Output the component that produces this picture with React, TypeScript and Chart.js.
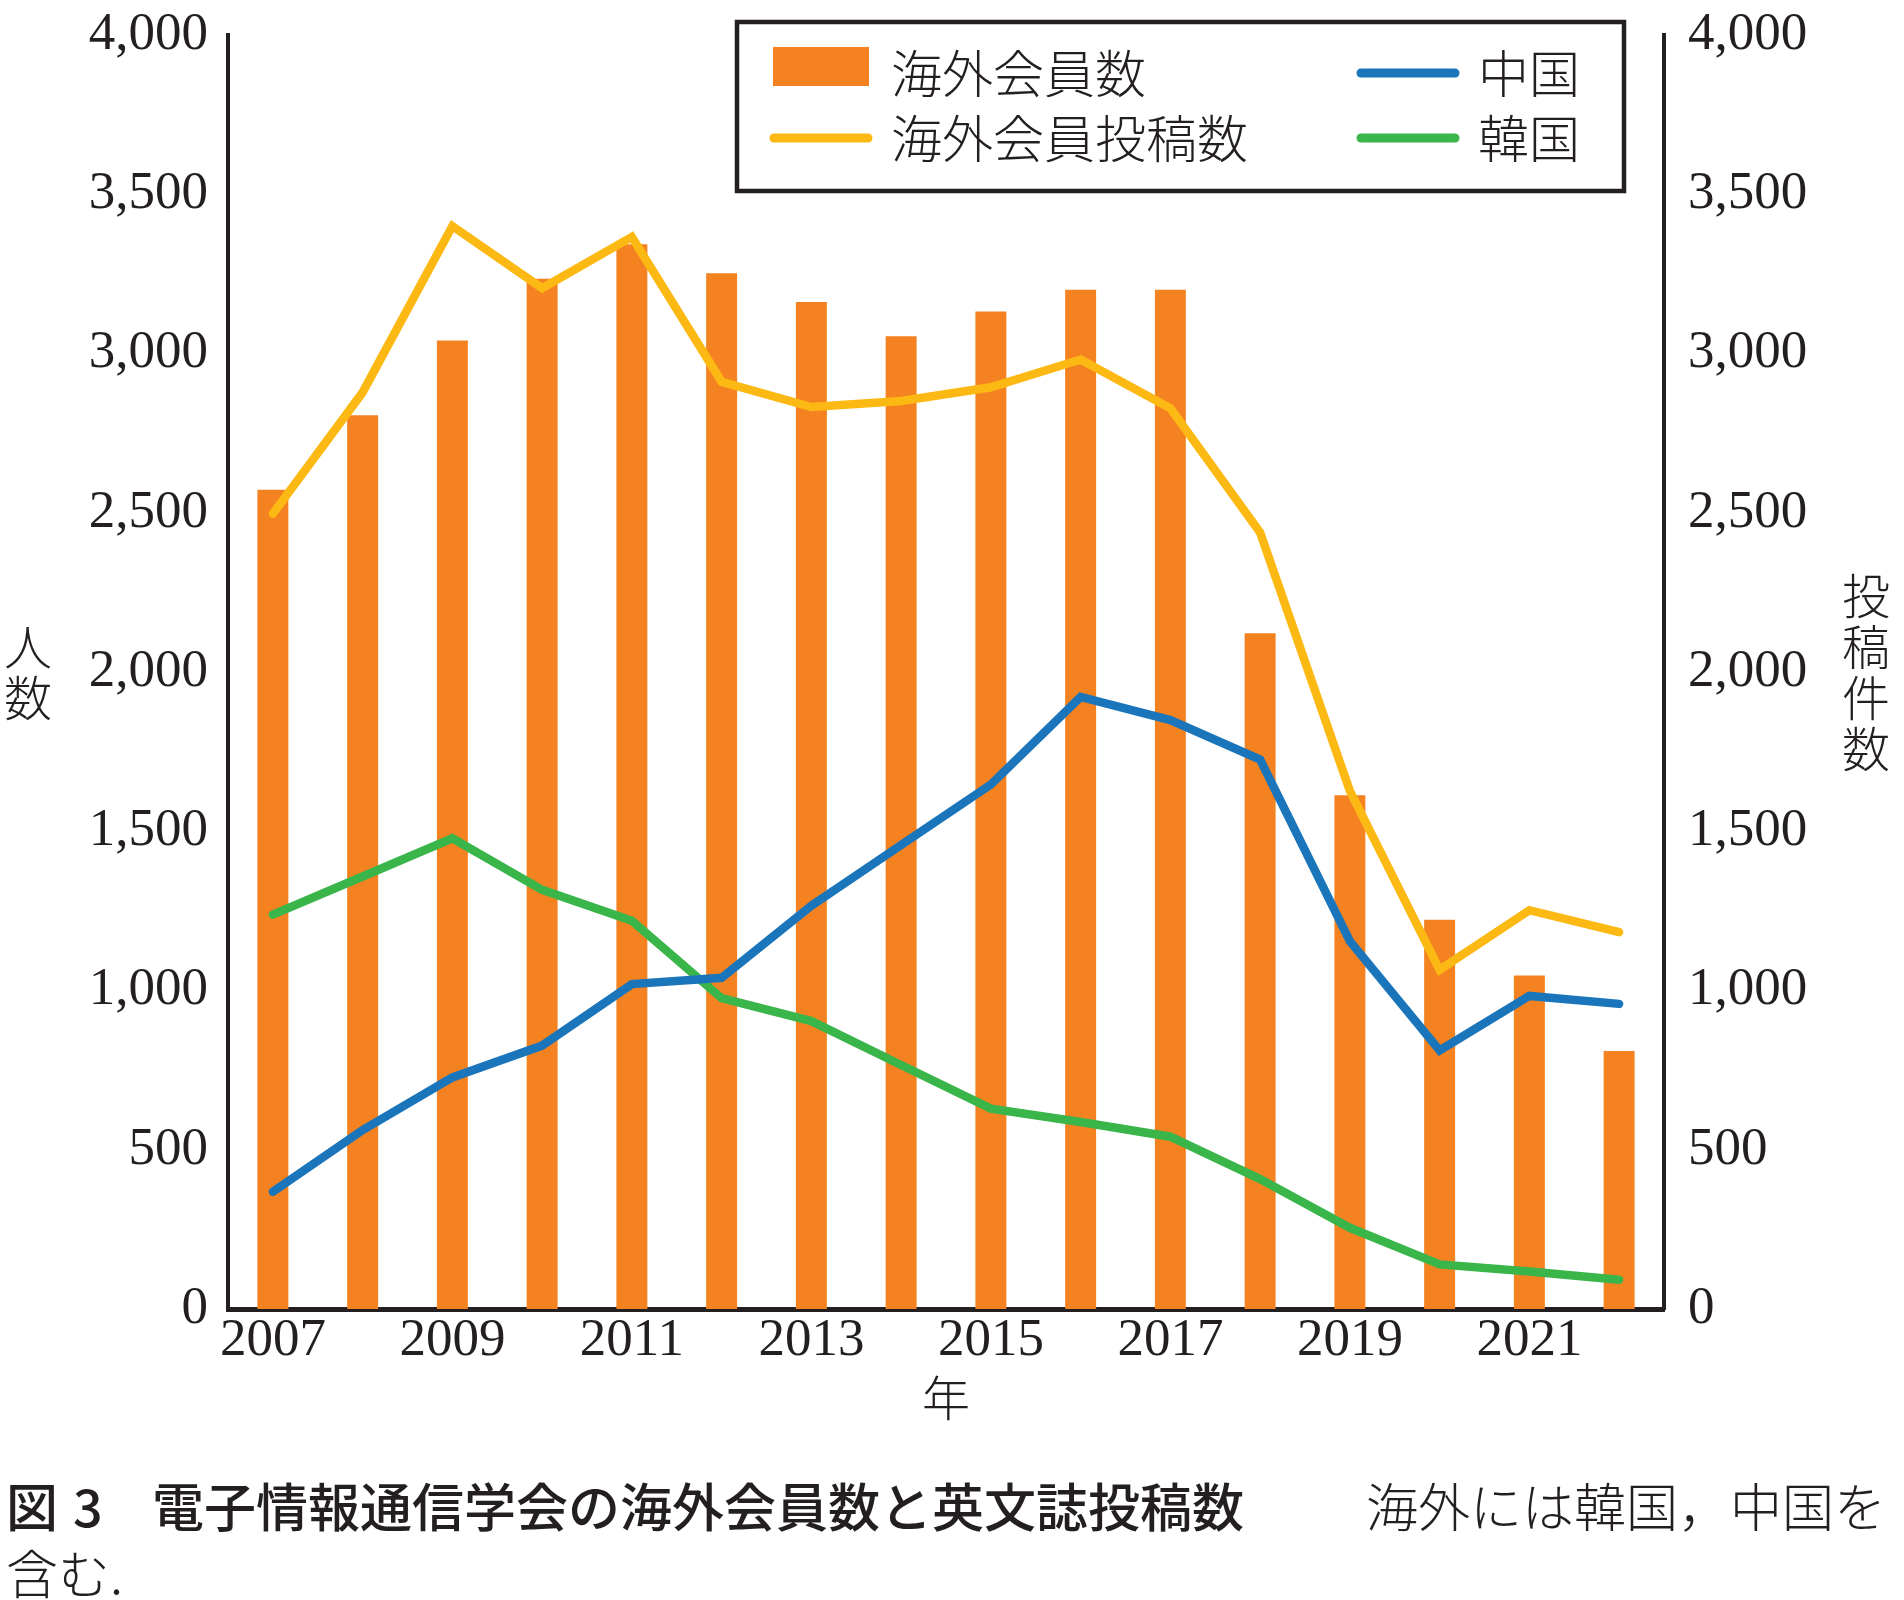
import React, { useEffect, useRef } from 'react';
import { Chart, registerables } from 'chart.js';

Chart.register(...registerables);

// ---- data ----
const years = ['2007', '2008', '2009', '2010', '2011', '2012', '2013', '2014', '2015', '2016', '2017', '2018', '2019', '2020', '2021', '2022'];
const memberCounts = [2572, 2806, 3041, 3235, 3343, 3252, 3162, 3054, 3132, 3200, 3200, 2122, 1613, 1222, 1047, 810];
const submissionCounts = [2497, 2878, 3400, 3205, 3366, 2911, 2832, 2851, 2894, 2981, 2828, 2438, 1627, 1065, 1252, 1183];
const chinaCounts = [368, 562, 727, 827, 1020, 1040, 1266, 1457, 1647, 1922, 1849, 1725, 1155, 812, 983, 958];
const koreaCounts = [1238, 1358, 1478, 1316, 1219, 976, 904, 766, 629, 587, 541, 408, 255, 140, 118, 92];
const yMin = 0;
const yMax = 4000;
const yStep = 500;

const seriesLabels = ['海外会員数', '海外会員投稿数', '中国', '韓国'];
const legendOrder = [0, 2, 1, 3];
const leftAxisTitle = ['人', '数'];
const rightAxisTitle = ['投', '稿', '件', '数'];
const xAxisTitle = '年';
const captionFig = '図';
const captionNum = '3';
const captionTitle = '電子情報通信学会の海外会員数と英文誌投稿数';
const captionNote = '海外には韓国，中国を';
const captionNote2 = '含む.';

// ---- styles ----
const INK = '#231F20';
const ORANGE = '#F58220';
const YELLOW = '#FDB913';
const BLUE = '#1B75BB';
const GREEN = '#39B54A';
const SERIF = '"Liberation Serif", "Times New Roman", serif';
const CJK = '"Noto Sans CJK JP", "Noto Sans CJK SC", sans-serif';

const CANVAS_W = 1904;
const CANVAS_H = 1460;
const PLOT = { left: 228, right: 1664, top: 35, bottom: 1309 };
const LINE_W = 8.5;

const verticalTitlesPlugin = {
  id: 'verticalTitles',
  afterDraw(chart: any) {
    const { ctx, chartArea } = chart;
    const midY = 672;
    const step = 51;
    ctx.save();
    ctx.fillStyle = INK;
    ctx.font = `300 48px ${CJK}`;
    ctx.textAlign = 'center';
    ctx.textBaseline = 'middle';
    const drawStack = (chars: string[], x: number) => {
      const start = midY - ((chars.length - 1) * step) / 2;
      chars.forEach((c, i) => ctx.fillText(c, x, start + i * step));
    };
    drawStack(leftAxisTitle, chartArea.left - 200);
    drawStack(rightAxisTitle, chartArea.right + 202);
    ctx.restore();
  },
};

const boxLegendPlugin = {
  id: 'boxLegend',
  afterDraw(chart: any) {
    const { ctx, chartArea } = chart;
    const bx = chartArea.left + 509;
    const by = 22;
    const bw = 887;
    const bh = 169;
    ctx.save();
    ctx.lineWidth = 4.5;
    ctx.strokeStyle = INK;
    ctx.strokeRect(bx, by, bw, bh);
    const colX = [bx + 36, bx + 623];
    const rowY = [by + 51, by + 116];
    const symW = 96;
    ctx.font = `300 51px ${CJK}`;
    ctx.textAlign = 'left';
    ctx.textBaseline = 'middle';
    legendOrder.forEach((dsIndex, k) => {
      const ds = chart.data.datasets[dsIndex];
      const x = colX[k % 2];
      const y = rowY[Math.floor(k / 2)];
      if (ds.type === 'bar') {
        ctx.fillStyle = ds.backgroundColor;
        ctx.fillRect(x, y - 26, symW, 39);
      } else {
        ctx.strokeStyle = ds.borderColor;
        ctx.lineWidth = 9;
        ctx.lineCap = 'round';
        ctx.beginPath();
        ctx.moveTo(x + 1, y);
        ctx.lineTo(x + symW - 1, y);
        ctx.stroke();
      }
      ctx.fillStyle = INK;
      ctx.fillText(ds.label, x + 118, y + 1);
    });
    ctx.restore();
  },
};

function lineDataset(label: string, data: number[], color: string, order: number) {
  return {
    type: 'line',
    label,
    data,
    borderColor: color,
    backgroundColor: color,
    borderWidth: LINE_W,
    pointRadius: 0,
    pointHoverRadius: 0,
    tension: 0,
    borderCapStyle: 'round',
    borderJoinStyle: 'miter',
    fill: false,
    yAxisID: 'y1',
    order,
  };
}

function ChartCanvas() {
  const ref = useRef<HTMLCanvasElement | null>(null);
  useEffect(() => {
    if (!ref.current) return;
    const tickFont = { family: SERIF, size: 53 };
    const chart = new Chart(ref.current, {
      type: 'bar',
      data: {
        labels: years,
        datasets: [
          {
            type: 'bar',
            label: seriesLabels[0],
            data: memberCounts,
            backgroundColor: ORANGE,
            yAxisID: 'y',
            order: 5,
            barPercentage: 0.345,
            categoryPercentage: 1,
          },
          lineDataset(seriesLabels[1], submissionCounts, YELLOW, 1),
          lineDataset(seriesLabels[2], chinaCounts, BLUE, 2),
          lineDataset(seriesLabels[3], koreaCounts, GREEN, 3),
        ] as any,
      },
      options: {
        animation: false,
        responsive: false,
        devicePixelRatio: 1,
        layout: { padding: { top: PLOT.top, bottom: 0, left: 0, right: 0 } },
        plugins: {
          legend: { display: false },
          tooltip: { enabled: false },
          title: { display: false },
        },
        scales: {
          x: {
            type: 'category',
            offset: true,
            grid: { display: false, drawTicks: false },
            border: { display: true, color: INK, width: 5 },
            ticks: {
              autoSkip: false,
              maxRotation: 0,
              minRotation: 0,
              padding: 0,
              color: INK,
              font: tickFont,
              callback: (_v: any, i: number) => (i % 2 === 0 ? years[i] : ''),
            },
            title: {
              display: true,
              text: xAxisTitle,
              color: INK,
              font: { family: CJK, size: 48, weight: '300' },
              padding: { top: 0, bottom: 33 },
            },
            afterFit: (s: any) => {
              s.height = CANVAS_H - PLOT.bottom;
              s.paddingLeft = 0;
              s.paddingRight = 0;
            },
          },
          y: {
            position: 'left',
            min: yMin,
            max: yMax,
            grid: { display: false, drawTicks: false },
            border: { display: true, color: INK, width: 4 },
            ticks: {
              stepSize: yStep,
              padding: 20,
              color: INK,
              font: tickFont,
              callback: (v: any) => Number(v).toLocaleString('en-US'),
            },
            afterFit: (s: any) => {
              s.width = PLOT.left;
              s.paddingTop = 0;
              s.paddingBottom = 0;
            },
          },
          y1: {
            position: 'right',
            min: yMin,
            max: yMax,
            grid: { display: false, drawTicks: false },
            border: { display: true, color: INK, width: 4 },
            ticks: {
              stepSize: yStep,
              padding: 24,
              color: INK,
              font: tickFont,
              callback: (v: any) => Number(v).toLocaleString('en-US'),
            },
            afterFit: (s: any) => {
              s.width = CANVAS_W - PLOT.right;
              s.paddingTop = 0;
              s.paddingBottom = 0;
            },
          },
        },
      } as any,
      plugins: [verticalTitlesPlugin, boxLegendPlugin],
    });
    return () => chart.destroy();
  }, []);
  return (
    <canvas
      ref={ref}
      width={CANVAS_W}
      height={CANVAS_H}
      style={{ position: 'absolute', left: 0, top: 0, width: CANVAS_W, height: CANVAS_H, display: 'block' }}
    />
  );
}

export default function App() {
  const captionBase: React.CSSProperties = {
    position: 'absolute',
    fontFamily: CJK,
    fontSize: 52,
    lineHeight: '60px',
    color: INK,
    whiteSpace: 'nowrap',
  };
  return (
    <div style={{ position: 'absolute', left: 0, top: 0, width: 1904, height: 1600, background: '#fff', overflow: 'hidden' }}>
      <ChartCanvas />
      <div style={{ ...captionBase, left: 6, top: 1475, fontWeight: 500 }}>{captionFig}</div>
      <div style={{ ...captionBase, left: 73, top: 1475, fontWeight: 500 }}>{captionNum}</div>
      <div style={{ ...captionBase, left: 152, top: 1475, fontWeight: 500 }}>{captionTitle}</div>
      <div style={{ ...captionBase, left: 1366, top: 1475, fontWeight: 300 }}>{captionNote}</div>
      <div style={{ ...captionBase, left: 6, top: 1542, fontWeight: 300 }}>{captionNote2}</div>
    </div>
  );
}
